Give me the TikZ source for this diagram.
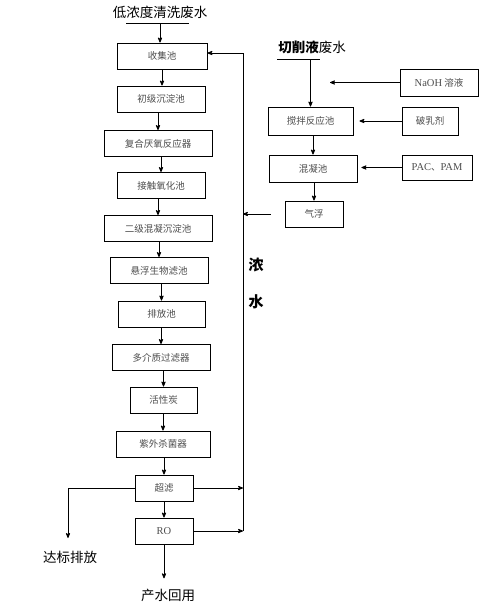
\documentclass[tikz,border=0pt]{standalone}
\usepackage{fontspec}
\setmainfont{Noto Sans CJK SC}
\newfontfamily\latin{Liberation Serif}
\usepackage{tikz}
\usetikzlibrary{arrows}

\begin{document}
\begin{tikzpicture}[->,>=stealth',x=1pt,y=-1pt,line width=0.8pt]
\tikzstyle{box}=[draw=black,line width=0.9pt,text=black!70,inner sep=0pt,minimum height=26pt]
\tikzstyle{title}=[inner sep=0pt,text=black,font=\fontsize{13.5pt}{15}\selectfont]
\tikzset{font=\fontsize{9.5pt}{11}\selectfont}

\useasboundingbox (0,0) rectangle (500,616);

        % main line
        \node[title]                                  (src1)    at (160,12)    {低浓度清洗废水};
        \coordinate                                   (src1l)   at (126,23);
        \coordinate                                   (src1r)   at (189,23);
        \coordinate                                   (in1)     at (160,23);

        \node[box,minimum width=90pt]                 (shouji)  at (162,56)    {收集池};
        \node[box,minimum width=88pt]                 (chuji)   at (161,99)    {初级沉淀池};
        \node[box,minimum width=108pt]                (fuhe)    at (158,143.5) {复合厌氧反应器};
        \node[box,minimum width=88pt]                 (jiechu)  at (161,185.5) {接触氧化池};
        \node[box,minimum width=108pt]                (erji)    at (158,228.5) {二级混凝沉淀池};
        \node[box,minimum width=98pt]                 (xuanfu)  at (159,270.5) {悬浮生物滤池};
        \node[box,minimum width=87pt]                 (paifang) at (161.5,314) {排放池};
        \node[box,minimum width=98pt]                 (duo)     at (161,357.5) {多介质过滤器};
        \node[box,minimum width=67pt]                 (huoxing) at (163.5,400) {活性炭};
        \node[box,minimum width=94pt]                 (ziwai)   at (163,444)   {紫外杀菌器};
        \node[box,minimum width=58pt]                 (chaolv)  at (164,488)   {超滤};
        \node[box,minimum width=58pt]                 (ro)      at (164,531)   {\latin\fontsize{10.5pt}{12}\selectfont RO};

        \node[title]                                  (dabiao)  at (70,557)    {达标排放};
        \node[title]                                  (chanshui) at (168,595)  {产水回用};
        \coordinate                                   (drainend) at (68,538);

        % concentrate return
        \coordinate                                   (fbtop)   at (243,53);
        \coordinate                                   (fbbot)   at (243,531);
        \node[title,font=\bfseries\fontsize{15pt}{17}\selectfont] (nong) at (256,265) {浓};
        \node[title,font=\bfseries\fontsize{15pt}{17}\selectfont] (shui) at (256,302) {水};

        % cutting fluid line
        \node[title]                                  (src2)    at (312,47)    {\textbf{切削液}废水};
        \coordinate                                   (src2l)   at (277,59);
        \coordinate                                   (src2r)   at (320,59);
        \coordinate                                   (in2)     at (310.5,59);

        \node[box,minimum width=85pt,minimum height=28pt] (jiaoban) at (310.5,121) {搅拌反应池};
        \node[box,minimum width=88pt,minimum height=27pt] (hunning) at (313,168.5) {混凝池};
        \node[box,minimum width=58pt]                 (qifu)    at (314,214)   {气浮};

        \node[box,minimum width=78pt,minimum height=27pt] (naoh) at (439,82.5) {{\latin\fontsize{10.5pt}{12}\selectfont NaOH} 溶液};
        \coordinate                                   (naohend) at (330,82.5);
        \node[box,minimum width=56pt,minimum height=28pt] (poru) at (430,121)  {破乳剂};
        \node[box,minimum width=70pt,minimum height=25pt] (pac)  at (437,167.5) {{\latin\fontsize{10.5pt}{12}\selectfont PAC}、{\latin\fontsize{10.5pt}{12}\selectfont PAM}};

        \draw[-] (src1l) -- (src1r);
        \draw[-] (src2l) -- (src2r);

        \path[->]
        (in1)     edge (in1 |- shouji.north)
        (shouji)  edge (shouji.south |- chuji.north)
        (chuji.south -| fuhe)     edge (fuhe.north)
        (fuhe.south -| jiechu)    edge (jiechu.north)
        (jiechu.south -| erji)    edge (erji.north)
        (erji.south -| xuanfu)    edge (xuanfu.north)
        (xuanfu.south -| paifang) edge (paifang.north)
        (paifang.south -| duo)    edge (duo.north)
        (duo.south -| huoxing)    edge (huoxing.north)
        (huoxing.south -| ziwai)  edge (ziwai.north)
        (ziwai.south -| chaolv)   edge (chaolv.north)
        (chaolv)  edge (ro)
        (ro.south) edge[shorten >=10pt] (ro.south |- chanshui.north)
        (chaolv.east) edge (chaolv.east -| fbtop)
        (ro.east)     edge (fbbot)
        (qifu.west)   edge[shorten <=14pt] (qifu.west -| fbtop)
        (in2)     edge (jiaoban.north)
        (jiaoban.south -| hunning) edge (hunning.north)
        (hunning.south -| qifu)    edge (qifu.north)
        (naoh.west) edge (naohend)
        (poru)    edge[shorten >=6pt] (jiaoban)
        (pac.west) edge[shorten >=4pt] (pac.west -| hunning.east)
        ; %end path

        \draw[->] (fbbot) -- (fbtop) -- (fbtop -| shouji.east);
        \draw[->] (chaolv.west) -- (chaolv.west -| drainend) -- (drainend);

\end{tikzpicture}
\end{document}
